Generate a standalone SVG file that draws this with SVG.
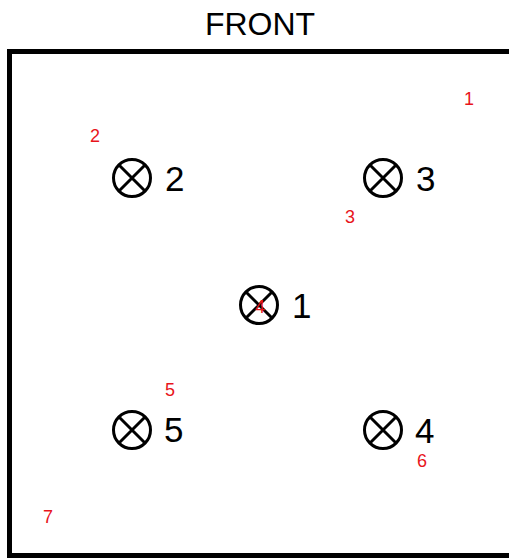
<svg xmlns="http://www.w3.org/2000/svg" width="509" height="558" viewBox="0 0 509 558">
<style>
.frame{fill:none;stroke:#000;stroke-width:5}
.sym circle{fill:none;stroke:#000;stroke-width:3}
.sym path{stroke:#000;stroke-width:3;fill:none}
.lbl{font-family:"Liberation Sans",Arial,sans-serif;font-size:35px;fill:#000}
.red{font-family:"Liberation Sans",Arial,sans-serif;font-size:18px;fill:#e8141b;text-anchor:middle}
.title{font-family:"Liberation Sans",Arial,sans-serif;font-size:32px;fill:#000;text-anchor:middle}
</style>
<defs>
<g id="xc" class="sym"><circle cx="0" cy="0" r="18.5"/><path d="M-13,-13L13,13M13,-13L-13,13"/></g>
</defs>
<rect width="509" height="558" fill="#fff"/>
<text class="title" x="260" y="35">FRONT</text>
<rect class="frame" x="9.5" y="51.5" width="520" height="504"/>
<g id="n2"><use href="#xc" x="132" y="178"/><text class="lbl" x="165" y="191">2</text></g>
<g id="n3"><use href="#xc" x="383" y="178"/><text class="lbl" x="416" y="191">3</text></g>
<g id="n1"><use href="#xc" x="259" y="305"/><text class="lbl" x="292" y="318">1</text></g>
<g id="n5"><use href="#xc" x="132" y="430"/><text class="lbl" x="164" y="442">5</text></g>
<g id="n4"><use href="#xc" x="383" y="430"/><text class="lbl" x="415" y="443">4</text></g>
<g id="connectors"></g>
<g id="red-labels">
<text class="red" x="469" y="105">1</text>
<text class="red" x="95" y="142">2</text>
<text class="red" x="350" y="223">3</text>
<text class="red" x="260" y="313">4</text>
<text class="red" x="170" y="396">5</text>
<text class="red" x="422" y="467">6</text>
<text class="red" x="48" y="523">7</text>
</g>
</svg>
